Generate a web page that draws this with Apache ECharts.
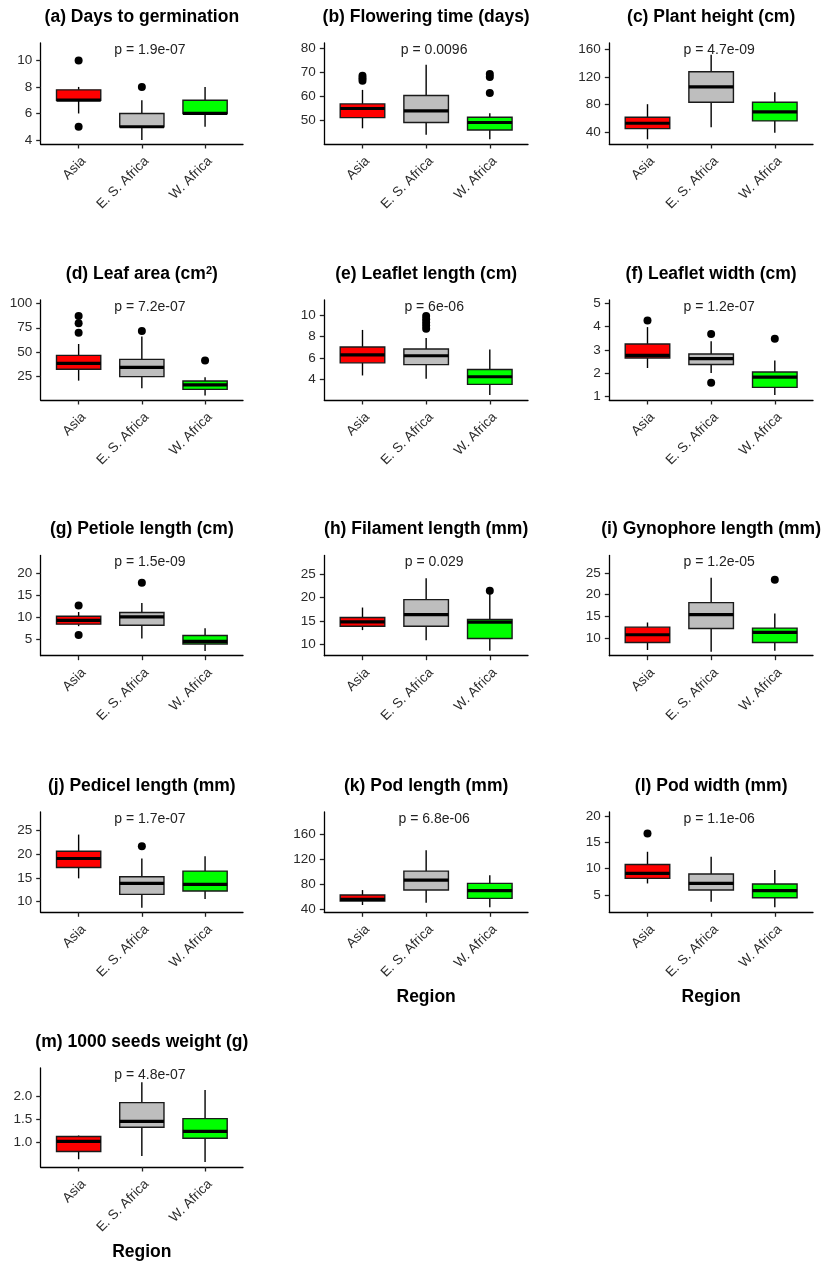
<!DOCTYPE html>
<html>
<head>
<meta charset="utf-8">
<script src="https://cdn.jsdelivr.net/npm/echarts@6/dist/echarts.min.js"></script>
<style>html,body{margin:0;padding:0;background:#fff;}#c{width:825px;height:1262px;}</style>
</head>
<body>
<div id="c"></div>
<script>
// ---------- data ----------
const regions = ['Asia', 'E. S. Africa', 'W. Africa'];

// box stats per region: [lower whisker, Q1, median, Q3, upper whisker]
const a_box = [[6, 7, 7, 7.78, 8], [4, 5, 5, 6, 7], [5, 6, 6, 7, 8]];
const a_out = [[1, 10], [1, 5], [2, 8]];
const b_box = [[46.8, 51.2, 55, 56.9, 62.7], [44.1, 49.2, 54, 60.4, 73.1], [42.3, 46.1, 49.2, 51.4, 53]];
const b_out = [[1, 66.5], [1, 67.5], [1, 68.5], [3, 61.4], [3, 68], [3, 69.3]];
const c_box = [[29.3, 44.9, 52.7, 61.5, 80.5], [46.8, 83.4, 105.9, 127.8, 152.7], [39, 56.1, 69.3, 83.4, 98]];
const c_out = [];
const d_box = [[20.9, 32.5, 38.6, 46.8, 58.4], [13.1, 25, 34.5, 42.7, 66], [5.6, 12, 16.5, 20.6, 24.3]];
const d_out = [[1, 87.1], [1, 79.5], [1, 70], [2, 71.7], [3, 41.4]];
const e_box = [[4.37, 5.54, 6.28, 7.02, 8.6], [4.06, 5.38, 6.2, 6.83, 7.85], [2.55, 3.54, 4.25, 4.92, 6.77]];
const e_out = [[2, 9.9], [2, 9.6], [2, 9.3], [2, 9.0], [2, 8.7]];
const f_box = [[2.23, 2.66, 2.77, 3.26, 3.98], [2.02, 2.38, 2.63, 2.83, 3.37], [1.07, 1.40, 1.84, 2.06, 2.55]];
const f_out = [[1, 4.26], [2, 3.68], [2, 1.6], [3, 3.48]];
const g_box = [[8.0, 8.45, 9.3, 10.25, 11.2], [5.2, 8.2, 10.1, 11.08, 13.25], [2.4, 3.95, 4.55, 5.9, 7.5]];
const g_out = [[1, 12.65], [1, 6.0], [2, 17.8]];
const h_box = [[13.06, 13.9, 14.83, 15.76, 17.9], [10.9, 13.9, 16.4, 19.6, 24.2], [8.65, 11.28, 14.76, 15.33, 20.9]];
const h_out = [[3, 21.5]];
const i_box = [[7.25, 9.0, 10.77, 12.52, 13.6], [6.86, 12.22, 15.43, 18.19, 23.9], [7.1, 9.0, 11.3, 12.3, 15.66]];
const i_out = [[3, 23.47]];
const j_box = [[14.9, 17.19, 19.07, 20.6, 24.1], [8.74, 11.54, 13.84, 15.23, 19.07], [10.56, 12.23, 13.63, 16.42, 19.56]];
const j_out = [[2, 21.65]];
const k_box = [[46.9, 53.3, 56, 62.9, 70.9], [50.7, 70.9, 86.9, 101.3, 134.9], [43.2, 57.6, 69.9, 81.6, 94.9]];
const k_out = [];
const l_box = [[7.2, 8.16, 9.11, 10.82, 13.23], [3.73, 5.95, 7.22, 8.99, 12.28], [2.66, 4.49, 5.82, 7.09, 9.75]];
const l_out = [[1, 16.7]];
const m_box = [[0.63, 0.80, 1.02, 1.13, 1.15], [0.70, 1.33, 1.46, 1.87, 2.32], [0.57, 1.09, 1.24, 1.52, 2.15]];
const m_out = [];

// y-axis ranges and tick labels
const a_range = [3.7, 11.31],  a_ticks = [4, 6, 8, 10];
const b_range = [40.3, 82.1],  b_ticks = [50, 60, 70, 80];
const c_range = [22.4, 169.8], c_ticks = [40, 80, 120, 160];
const d_range = [1.1, 103.4],  d_ticks = [25, 50, 75, 100];
const e_range = [2.09, 11.38], e_ticks = [4, 6, 8, 10];
const f_range = [0.86, 5.14],  f_ticks = [1, 2, 3, 4, 5];
const g_range = [1.32, 23.98], g_ticks = [5, 10, 15, 20];
const h_range = [7.58, 29.05], h_ticks = [10, 15, 20, 25];
const i_range = [5.94, 29.05], i_ticks = [10, 15, 20, 25];
const j_range = [7.77, 28.84], j_ticks = [10, 15, 20, 25];
const k_range = [35.2, 196.3], k_ticks = [40, 80, 120, 160];
const l_range = [1.71, 20.8],  l_ticks = [5, 10, 15, 20];
const m_range = [0.46, 2.63],  m_ticks = [1.0, 1.5, 2.0];

const titles = ['(a) Days to germination', '(b) Flowering time (days)', '(c) Plant height (cm)',
  '(d) Leaf area (cm{sup|2})', '(e) Leaflet length (cm)', '(f) Leaflet width (cm)',
  '(g) Petiole length (cm)', '(h) Filament length (mm)', '(i) Gynophore length (mm)',
  '(j) Pedicel length (mm)', '(k) Pod length (mm)', '(l) Pod width (mm)', '(m) 1000 seeds weight (g)'];
const pvalues = ['p = 1.9e-07', 'p = 0.0096', 'p = 4.7e-09', 'p = 7.2e-07', 'p = 6e-06', 'p = 1.2e-07',
  'p = 1.5e-09', 'p = 0.029', 'p = 1.2e-05', 'p = 1.7e-07', 'p = 6.8e-06', 'p = 1.1e-06', 'p = 4.8e-07'];
const xTitle = 'Region';

const boxes = [a_box, b_box, c_box, d_box, e_box, f_box, g_box, h_box, i_box, j_box, k_box, l_box, m_box];
const outs = [a_out, b_out, c_out, d_out, e_out, f_out, g_out, h_out, i_out, j_out, k_out, l_out, m_out];
const ranges = [a_range, b_range, c_range, d_range, e_range, f_range, g_range, h_range, i_range, j_range, k_range, l_range, m_range];
const ticks = [a_ticks, b_ticks, c_ticks, d_ticks, e_ticks, f_ticks, g_ticks, h_ticks, i_ticks, j_ticks, k_ticks, l_ticks, m_ticks];

// ---------- layout / style ----------
const fills = ['#FF0000', '#BEBEBE', '#00FF00'];
const colLeft = [40.7, 324.3, 609.3];
const colRight = [243, 528, 813];
const rowTop = [43, 300, 555.5, 812, 1068];
const rowBottom = [144, 400, 655.7, 912.3, 1168];
const FONT = 'Liberation Sans, Arial, Helvetica, sans-serif';
const TICK_FS = 13.5;

const grid = [], xAxis = [], yAxis = [], series = [], title = [];

function renderBox(params, api) {
  const x = api.value(0);
  const lo = api.value(1), q1 = api.value(2), med = api.value(3), q3 = api.value(4), hi = api.value(5);
  const ci = api.value(6);
  const half = 0.35;
  const tl = api.coord([x - half, q3]);
  const br = api.coord([x + half, q1]);
  const pHi = api.coord([x, hi]), pQ3 = api.coord([x, q3]), pQ1 = api.coord([x, q1]), pLo = api.coord([x, lo]);
  const mL = api.coord([x - half, med]), mR = api.coord([x + half, med]);
  return {
    type: 'group',
    children: [
      { type: 'line', shape: { x1: pHi[0], y1: pHi[1], x2: pQ3[0], y2: pQ3[1] }, style: { stroke: '#000', lineWidth: 1.4 } },
      { type: 'line', shape: { x1: pQ1[0], y1: pQ1[1], x2: pLo[0], y2: pLo[1] }, style: { stroke: '#000', lineWidth: 1.4 } },
      { type: 'rect', shape: { x: tl[0], y: tl[1], width: br[0] - tl[0], height: br[1] - tl[1] },
        style: { fill: fills[ci], stroke: '#1a1a1a', lineWidth: 1.4 } },
      { type: 'line', shape: { x1: mL[0], y1: mL[1], x2: mR[0], y2: mR[1] }, style: { stroke: '#000', lineWidth: 3.2 } }
    ]
  };
}

for (let p = 0; p < 13; p++) {
  const col = p % 3, row = Math.floor(p / 3);
  const L = colLeft[col], R = colRight[col], T = rowTop[row], B = rowBottom[row];
  grid.push({ left: L, top: T, width: R - L, height: B - T, containLabel: false });
  const hasTitle = p >= 10;
  xAxis.push({
    gridIndex: p, type: 'value', min: 0.4, max: 3.6,
    splitLine: { show: false },
    axisLine: { show: true, onZero: false, lineStyle: { color: '#000', width: 1.3 } },
    axisTick: { show: true, customValues: [1, 2, 3], length: 4.5, lineStyle: { color: '#222', width: 1.3 } },
    axisLabel: { show: true, customValues: [1, 2, 3], rotate: 45, margin: 10, verticalAlign: 'top', align: 'right',
      color: '#2b2b2b', fontSize: TICK_FS, fontFamily: FONT,
      formatter: v => regions[Math.round(v) - 1] },
    name: hasTitle ? xTitle : '', nameLocation: 'middle', nameGap: 76,
    nameTextStyle: { fontSize: 17.5, fontWeight: 'bold', color: '#000', fontFamily: FONT }
  });
  const tk = ticks[p];
  yAxis.push({
    gridIndex: p, type: 'value', min: ranges[p][0], max: ranges[p][1],
    splitLine: { show: false },
    axisLine: { show: true, onZero: false, lineStyle: { color: '#000', width: 1.3 } },
    axisTick: { show: true, customValues: tk, length: 4.5, lineStyle: { color: '#222', width: 1.3 } },
    axisLabel: { show: true, customValues: tk, margin: 8.5, color: '#2b2b2b', fontSize: TICK_FS, fontFamily: FONT,
      formatter: v => (p === 12 ? Number(v).toFixed(1) : String(v)) }
  });
  const bdata = boxes[p].map((b, i) => [i + 1, b[0], b[1], b[2], b[3], b[4], i]);
  series.push({
    type: 'custom', xAxisIndex: p, yAxisIndex: p, renderItem: renderBox, data: bdata,
    encode: { x: 0, y: [1, 2, 3, 4, 5] }, clip: false, silent: true
  });
  series.push({
    type: 'scatter', xAxisIndex: p, yAxisIndex: p, data: outs[p], symbolSize: 8,
    itemStyle: { color: '#000', opacity: 1 }, silent: true, z: 5
  });
  const cx = (L + R) / 2;
  title.push({ text: titles[p], left: cx, top: T - 35, textAlign: 'center', padding: 0,
    textStyle: { fontSize: 17.5, fontWeight: 'bold', color: '#000', fontFamily: FONT,
      rich: { sup: { fontSize: 11, fontWeight: 'bold', color: '#000', fontFamily: FONT, verticalAlign: 'top', padding: [0, 0, 8, 0] } } } });
  title.push({ text: pvalues[p], left: cx + 8, top: T, textAlign: 'center', padding: 0,
    textStyle: { fontSize: 14, fontWeight: 'normal', color: '#222', fontFamily: FONT } });
}

const chart = echarts.init(document.getElementById('c'), null, { renderer: 'canvas' });
chart.setOption({ animation: false, backgroundColor: '#fff', title, grid, xAxis, yAxis, series });
</script>
</body>
</html>
